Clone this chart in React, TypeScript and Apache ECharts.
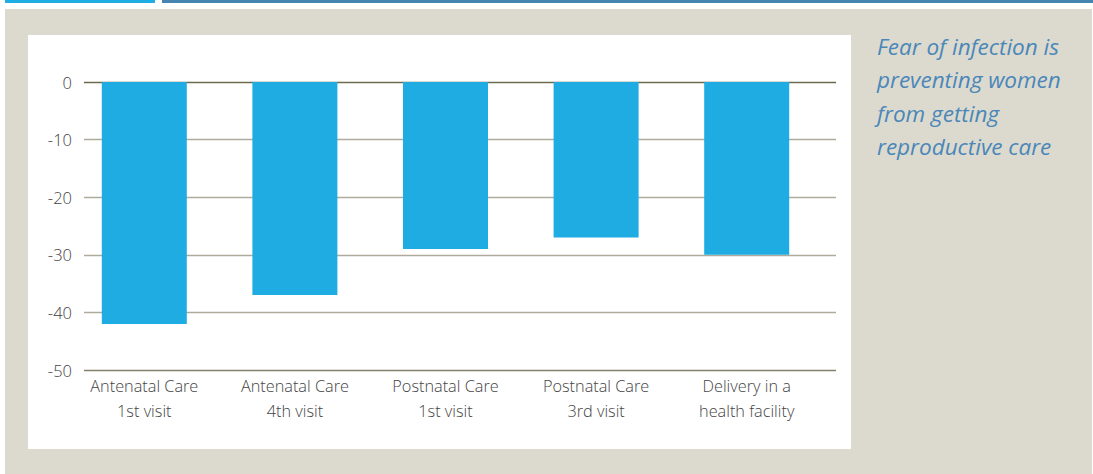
import React, { useEffect, useRef } from "react";
import * as echarts from "echarts";

const categories = [
  "Antenatal Care\n1st visit",
  "Antenatal Care\n4th visit",
  "Postnatal Care\n1st visit",
  "Postnatal Care\n3rd visit",
  "Delivery in a\nhealth facility",
];
const values = [-42, -37, -29, -27, -30];
const yMin = -50;
const yMax = 0;
const yStep = 10;
const sideNote = "Fear of infection is\npreventing women\nfrom getting\nreproductive care";

export default function App() {
  const ref = useRef<HTMLDivElement>(null);
  useEffect(() => {
    if (!ref.current) return;
    const chart = echarts.init(ref.current, null, { renderer: "svg" });
    const font = "'Open Sans', 'Noto Sans', sans-serif";
    chart.setOption({
      animation: false,
      backgroundColor: "#ffffff",
      textStyle: { fontFamily: font },
      graphic: [
        { type: "rect", z: -10, shape: { x: 5, y: 0, width: 150, height: 3 }, style: { fill: "#1eaee3" }, silent: true },
        { type: "rect", z: -10, shape: { x: 162, y: 0, width: 931, height: 3 }, style: { fill: "#4585b0" }, silent: true },
        { type: "rect", z: -10, shape: { x: 5, y: 9, width: 1087, height: 465 }, style: { fill: "#dcdacf" }, silent: true },
        { type: "rect", z: -9, shape: { x: 28, y: 35, width: 823, height: 414 }, style: { fill: "#ffffff" }, silent: true },
        {
          type: "text",
          left: 877,
          top: 30,
          style: {
            text: sideNote,
            fill: "#4a87b8",
            font: "italic 22.5px 'Open Sans', sans-serif",
            lineHeight: 33.3,
          },
        },
      ],
      grid: [
        { left: 84, right: 257, top: 82, bottom: 104, containLabel: false },
        { left: 69, right: 271, top: 82, bottom: 104, containLabel: false },
      ],
      xAxis: [
        {
          gridIndex: 0,
          type: "category",
          data: categories,
          show: false,
        },
        {
          gridIndex: 1,
          type: "category",
          data: categories,
          axisLine: { show: false },
          axisTick: { show: false },
          axisLabel: {
            color: "#444444",
            fontSize: 16.3,
            fontWeight: 300,
            lineHeight: 25,
            margin: 3,
            interval: 0,
            fontFamily: font,
          },
        },
      ],
      yAxis: [
        {
          gridIndex: 0,
          type: "value",
          min: yMin,
          max: yMax,
          interval: yStep,
          axisLine: { show: false },
          axisTick: { show: false },
          axisLabel: { color: "#444444", fontSize: 16.5, fontWeight: 300, margin: 12, fontFamily: font },
          splitLine: {
            show: true,
            lineStyle: {
              color: ["#858169", "#aeab9c", "#aeab9c", "#aeab9c", "#aeab9c", "#6e6a4b"],
              width: 1.3,
            },
          },
        },
        {
          gridIndex: 1,
          type: "value",
          min: yMin,
          max: yMax,
          interval: yStep,
          show: false,
          splitLine: { show: false },
        },
      ],
      series: [
        {
          type: "bar",
          xAxisIndex: 1,
          yAxisIndex: 1,
          data: values,
          barWidth: 85,
          itemStyle: { color: "#1eace2" },
          z: 3,
        },
      ],
    });
    return () => chart.dispose();
  }, []);
  return (
    <div
      ref={ref}
      style={{ position: "fixed", left: 0, top: 0, width: 1093, height: 474 }}
    />
  );
}
